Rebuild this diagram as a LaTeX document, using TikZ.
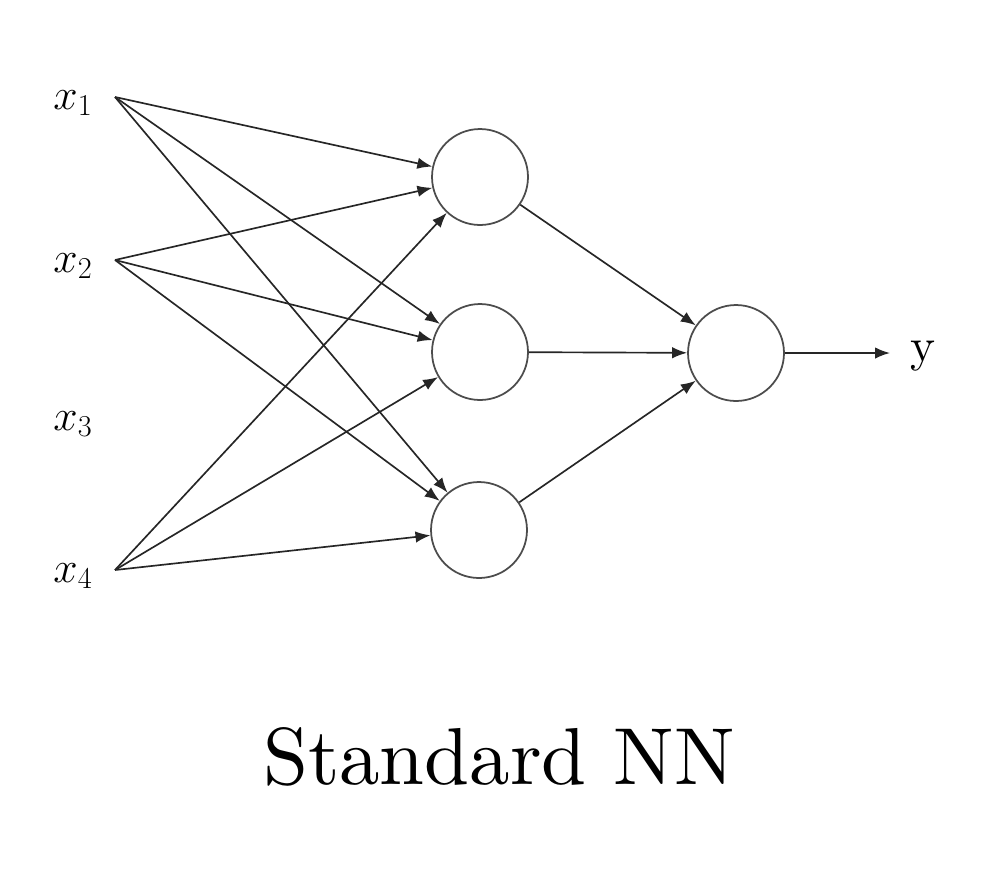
\documentclass[tikz,border=0pt]{standalone}
\usepackage{fontspec}
\newfontfamily\lmten{lmroman10-regular.otf}
\usetikzlibrary{arrows.meta}
\begin{document}
\begin{tikzpicture}[x=0.02cm,y=-0.02cm,
  neuron/.style={circle,draw=black!70,line width=1pt,minimum size=1.92cm,inner sep=0pt},
  conn/.style={draw=black!85,line width=0.95pt,-{Latex[length=8.5pt,width=6.5pt]}},
  inlabel/.style={font=\fontsize{27}{30}\selectfont,inner sep=0pt}]
\useasboundingbox (0,0) rectangle (1006,877);
\coordinate (i1) at (115,97);
\coordinate (i2) at (115,260);
\coordinate (i4) at (115,570);
\node[inlabel] (l1) at (73,103) {$x_1$};
\node[inlabel] (l2) at (73,266) {$x_2$};
\node[inlabel] (l3) at (73,424) {$x_3$};
\node[inlabel] (l4) at (73,576) {$x_4$};
\node[neuron] (h1) at (480,177) {};
\node[neuron] (h2) at (480,352) {};
\node[neuron] (h3) at (479,530) {};
\node[neuron] (o) at (736,353) {};
\coordinate (yend) at (890,353);
\node[inlabel,anchor=west,font=\lmten\fontsize{27}{30}\selectfont] (y) at (910,356) {y};
\foreach \s in {i1,i2,i4}{
  \foreach \t in {h1,h2,h3}{
    \draw[conn] (\s) -- (\t);
  }
}
\foreach \t in {h1,h2,h3}{\draw[conn] (\t) -- (o);}
\draw[conn] (o) -- (yend);
\node[font=\lmten\fontsize{46}{52}\selectfont,inner sep=0pt] (title) at (499,757) {Standard NN};
\end{tikzpicture}
\end{document}
